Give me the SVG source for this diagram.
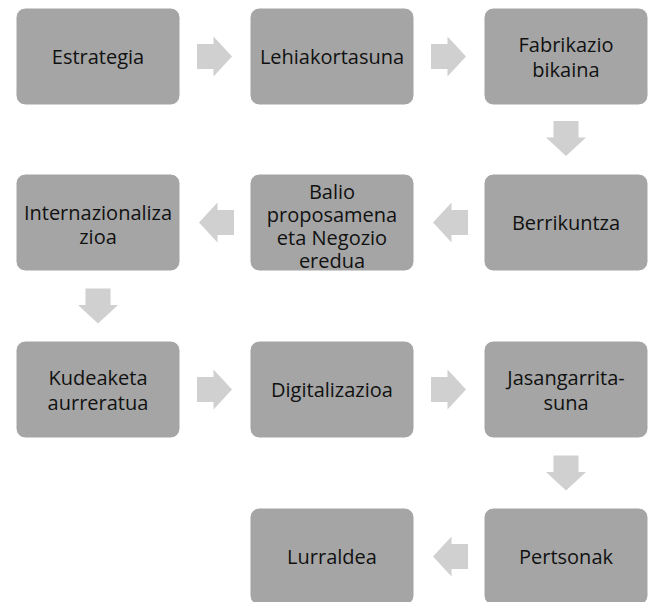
<svg xmlns="http://www.w3.org/2000/svg" xmlns:xlink="http://www.w3.org/1999/xlink" width="653" height="602" viewBox="0 0 653 602">
<defs>
<style>
.box{fill:#a5a5a5;stroke:#ffffff;stroke-width:1}
.arr{fill:#d0d0d0}
text{font-family:"Open Sans","Noto Sans","DejaVu Sans",sans-serif;font-size:20px;fill:#111;text-anchor:middle}
</style>
<polygon id="ar" points="0,-12.5 16.5,-12.5 16.5,-20 35,0 16.5,20 16.5,12.5 0,12.5"/>
</defs>
<rect width="653" height="602" fill="#ffffff"/>
<g id="connectors" class="arr">
<use xlink:href="#ar" href="#ar" transform="translate(197,56.5)"/>
<use xlink:href="#ar" href="#ar" transform="translate(431,56.5)"/>
<use xlink:href="#ar" href="#ar" transform="translate(566,121) rotate(90)"/>
<use xlink:href="#ar" href="#ar" transform="translate(468,222.5) rotate(180)"/>
<use xlink:href="#ar" href="#ar" transform="translate(234,222.5) rotate(180)"/>
<use xlink:href="#ar" href="#ar" transform="translate(98,288.5) rotate(90)"/>
<use xlink:href="#ar" href="#ar" transform="translate(197,389.5)"/>
<use xlink:href="#ar" href="#ar" transform="translate(431,389.5)"/>
<use xlink:href="#ar" href="#ar" transform="translate(566,455.5) rotate(90)"/>
<use xlink:href="#ar" href="#ar" transform="translate(468,556.5) rotate(180)"/>
</g>
<g id="n1"><rect class="box" x="16" y="8" width="164" height="97" rx="9.5"/><text x="98" y="63.5">Estrategia</text></g>
<g id="n2"><rect class="box" x="250" y="8" width="164" height="97" rx="9.5"/><text x="332" y="63.5">Lehiakortasuna</text></g>
<g id="n3"><rect class="box" x="484" y="8" width="164" height="97" rx="9.5"/><text x="566" y="51.5">Fabrikazio</text><text x="566" y="77">bikaina</text></g>
<g id="n4"><rect class="box" x="484" y="174" width="164" height="97" rx="9.5"/><text x="566" y="229.5">Berrikuntza</text></g>
<g id="n5"><rect class="box" x="250" y="174" width="164" height="97" rx="9.5"/><text x="332" y="199">Balio</text><text x="332" y="222">proposamena</text><text x="332" y="245">eta Negozio</text><text x="332" y="268">eredua</text></g>
<g id="n6"><rect class="box" x="16" y="174" width="164" height="97" rx="9.5"/><text x="98" y="220">Internazionaliza</text><text x="98" y="244">zioa</text></g>
<g id="n7"><rect class="box" x="16" y="341" width="164" height="97" rx="9.5"/><text x="98" y="385">Kudeaketa</text><text x="98" y="410">aurreratua</text></g>
<g id="n8"><rect class="box" x="250" y="341" width="164" height="97" rx="9.5"/><text x="332" y="397">Digitalizazioa</text></g>
<g id="n9"><rect class="box" x="484" y="341" width="164" height="97" rx="9.5"/><text x="566" y="385">Jasangarrita-</text><text x="566" y="410">suna</text></g>
<g id="n10"><rect class="box" x="250" y="508" width="164" height="97" rx="9.5"/><text x="332" y="564">Lurraldea</text></g>
<g id="n11"><rect class="box" x="484" y="508" width="164" height="97" rx="9.5"/><text x="566" y="564">Pertsonak</text></g>
</svg>
